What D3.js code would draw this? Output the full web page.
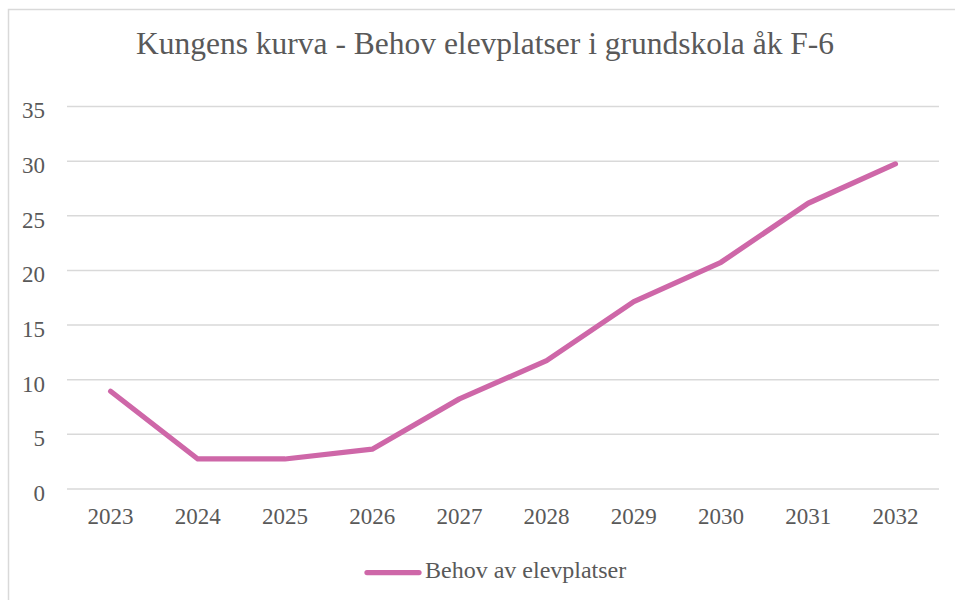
<!DOCTYPE html>
<html>
<head>
<meta charset="utf-8">
<script src="https://cdn.jsdelivr.net/npm/d3@7"></script>
<style>
  html, body { margin: 0; padding: 0; background: #fff; }
  svg { display: block; }
</style>
</head>
<body>
<svg id="chart" width="955" height="600"></svg>
<script>
// Chart content
const title = "Kungens kurva - Behov elevplatser i grundskola åk F-6";
const seriesName = "Behov av elevplatser";
const years = ["2023", "2024", "2025", "2026", "2027", "2028", "2029", "2030", "2031", "2032"];
const demand = [8.9, 2.7, 2.7, 3.6, 8.2, 11.7, 17.1, 20.7, 26.1, 29.7];
const yTicks = [0, 5, 10, 15, 20, 25, 30, 35];

const W = 955, H = 600;
const plot = { left: 67, right: 939, top: 106, bottom: 488.5 };
const lineColor = "#CE67A8";
const gridColor = "#d9d9d9";
const textColor = "#595959";
const serif = "'Liberation Serif', 'Times New Roman', serif";

const svg = d3.select("#chart");

// Outer chart frame (runs off the right and bottom edges)
svg.append("rect")
  .attr("x", 8.5).attr("y", 9.5)
  .attr("width", W + 20).attr("height", H + 20)
  .attr("fill", "#fff")
  .attr("stroke", gridColor).attr("stroke-width", 1.5);

const x = d3.scaleBand().domain(years).range([plot.left, plot.right]).padding(0);
const y = d3.scaleLinear().domain([0, 35]).range([plot.bottom, plot.top]);

// Title
svg.append("text")
  .attr("x", 485).attr("y", 53.5)
  .attr("text-anchor", "middle")
  .style("font-family", serif)
  .style("font-size", "31.5px")
  .style("fill", textColor)
  .text(title);

// Horizontal gridlines with value labels
const yAxis = d3.axisLeft(y)
  .tickValues(yTicks)
  .tickSize(-(plot.right - plot.left))
  .tickPadding(22)
  .tickFormat(d3.format("d"));

const gy = svg.append("g")
  .attr("transform", `translate(${plot.left},0)`)
  .call(yAxis)
  .attr("font-family", null).attr("font-size", null);
gy.select(".domain").remove();
gy.selectAll(".tick line").attr("stroke", gridColor).attr("stroke-width", 1.5);
gy.selectAll(".tick text")
  .attr("dy", "0.52em")
  .style("font-family", serif)
  .style("font-size", "23px")
  .attr("fill", textColor);

// Category labels
const xAxis = d3.axisBottom(x).tickSize(0).tickPadding(19);
const gx = svg.append("g")
  .attr("transform", `translate(0,${plot.bottom})`)
  .call(xAxis)
  .attr("font-family", null).attr("font-size", null);
gx.select(".domain").remove();
gx.selectAll(".tick text")
  .style("font-family", serif)
  .style("font-size", "23px")
  .attr("fill", textColor);

// Series line
const line = d3.line()
  .x((d, i) => x(years[i]) + x.bandwidth() / 2)
  .y(d => y(d));

svg.append("path")
  .datum(demand)
  .attr("d", line)
  .attr("fill", "none")
  .attr("stroke", lineColor)
  .attr("stroke-width", 5.25)
  .attr("stroke-linejoin", "round")
  .attr("stroke-linecap", "round");

// Legend
const lg = svg.append("g").attr("transform", "translate(367,572.5)");
lg.append("line")
  .attr("x1", 0).attr("x2", 52)
  .attr("y1", 0).attr("y2", 0)
  .attr("stroke", lineColor)
  .attr("stroke-width", 5.25)
  .attr("stroke-linecap", "round");
lg.append("text")
  .attr("x", 58).attr("y", 5.5)
  .style("font-family", serif)
  .style("font-size", "24px")
  .style("fill", textColor)
  .text(seriesName);
</script>
</body>
</html>
